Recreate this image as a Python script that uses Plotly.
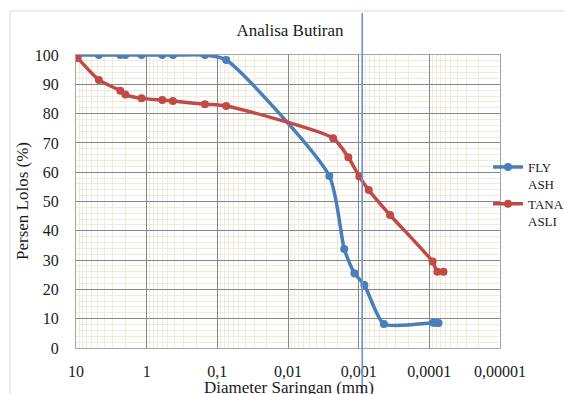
import plotly.graph_objects as go

# ---- data ----
fly_d = [9.5, 4.75, 2.36, 2.0, 1.18, 0.6, 0.425, 0.15, 0.075,
         0.0026, 0.0016, 0.00115, 0.00083, 0.00044, 0.000088, 0.00008, 0.000074]
fly_p = [100, 100, 100, 100, 100, 100, 100, 100, 98.3,
         58.7, 33.8, 25.5, 21.5, 8.2, 8.6, 8.5, 8.5]

tanah_d = [9.5, 4.75, 2.36, 2.0, 1.18, 0.6, 0.425, 0.15, 0.075,
           0.0023, 0.0014, 0.00098, 0.00072, 0.00036, 0.00009, 0.000077, 0.000063]
tanah_p = [99, 91.5, 87.8, 86.5, 85.2, 84.6, 84.3, 83.2, 82.6,
           71.6, 65.1, 58.5, 53.9, 45.4, 29.5, 26, 26]

x_tickvals = [10, 1, 0.1, 0.01, 0.001, 0.0001, 0.00001]
x_ticktext = ["10", "1", "0,1", "0,01", "0,001", "0,0001", "0,00001"]
y_tickvals = list(range(0, 101, 10))

marker_line_x = 0.00089

BLUE = "#4A7EBB"
RED = "#BE4B48"
FONT = "Liberation Serif"

minor_vals = [m * 10 ** k for k in range(-5, 1) for m in range(2, 10)]

W, H = 564, 394
L, T, R, B = 76, 55, 64, 46
PW, PH = W - L - R, H - T - B

fig = go.Figure()
fig.add_trace(go.Scatter(
    x=fly_d, y=fly_p, name="FLY<br>ASH", mode="lines+markers",
    line=dict(color=BLUE, width=3.5, shape="spline", smoothing=0.6),
    marker=dict(color=BLUE, size=8),
))
fig.add_trace(go.Scatter(
    x=tanah_d, y=tanah_p, name="TANAH<br>ASLI", mode="lines+markers",
    line=dict(color=RED, width=3.5, shape="spline", smoothing=0.6),
    marker=dict(color=RED, size=8),
))

fig.update_layout(
    width=W, height=H,
    margin=dict(l=L, r=R, t=T, b=B, autoexpand=False),
    paper_bgcolor="white", plot_bgcolor="white",
    font=dict(family=FONT, color="#1a1a1a", size=16),
    title=dict(text="Analisa Butiran", x=290 / W, xref="container", xanchor="center",
               y=1 - 30 / H, yref="container", yanchor="middle",
               font=dict(family=FONT, size=17, color="#1a1a1a")),
    showlegend=True,
    legend=dict(x=488 / W, xref="container", xanchor="left",
                y=1 - 152 / H, yref="container", yanchor="top",
                font=dict(family=FONT, size=13, color="#1a1a1a"),
                bgcolor="rgba(0,0,0,0)", valign="top", tracegroupgap=0),
    annotations=[
        dict(text="Diameter Saringan (mm)", xref="paper", yref="paper",
             x=(289 - L) / PW, y=-(387 - (H - B)) / PH, xanchor="center", yanchor="middle",
             showarrow=False, font=dict(family=FONT, size=17, color="#1a1a1a")),
        dict(text="Persen Lolos (%)", xref="paper", yref="paper", textangle=-90,
             x=-(L - 22) / PW, y=((H - B) - 201) / PH, xanchor="center", yanchor="middle",
             showarrow=False, font=dict(family=FONT, size=17, color="#1a1a1a")),
    ],
)

fig.update_xaxes(
    type="log", range=[1, -5], automargin=False,
    tickmode="array", tickvals=x_tickvals, ticktext=x_ticktext,
    showgrid=True, gridcolor="#858585", gridwidth=1.3,
    minor=dict(tickmode="array", tickvals=minor_vals, showgrid=True,
               gridcolor="#EEEBDD", gridwidth=1.2, ticks=""),
    showline=True, linecolor="#a6a6a6", linewidth=1.3, mirror=True,
    ticks="", ticklabelstandoff=9, zeroline=False,
    tickfont=dict(family=FONT, size=16),
)
fig.update_yaxes(
    range=[0, 100], tickmode="array", tickvals=y_tickvals, automargin=False,
    showgrid=True, gridcolor="#858585", gridwidth=1.3,
    minor=dict(dtick=2, showgrid=True, gridcolor="#EEEBDD", gridwidth=1.2, ticks=""),
    showline=True, linecolor="#a6a6a6", linewidth=1.3, mirror=True,
    ticks="", ticklabelstandoff=13, zeroline=False,
    tickfont=dict(family=FONT, size=16),
)

# outer chart border
fig.add_shape(type="rect", xref="paper", yref="paper",
              x0=(10 - L) / PW, x1=1.3, y0=-0.3, y1=((H - B) - 11) / PH,
              line=dict(color="#d9d9d9", width=1), layer="below")
# vertical marker line
fig.add_shape(type="line", xref="x", yref="paper",
              x0=marker_line_x, x1=marker_line_x,
              y0=-0.3, y1=((H - B) - 13) / PH,
              line=dict(color="#6A95D2", width=1.6), layer="above")

fig.write_html("out.html", config={"displayModeBar": False},
               post_script="document.body.style.margin='0';document.body.style.overflow='hidden';")
